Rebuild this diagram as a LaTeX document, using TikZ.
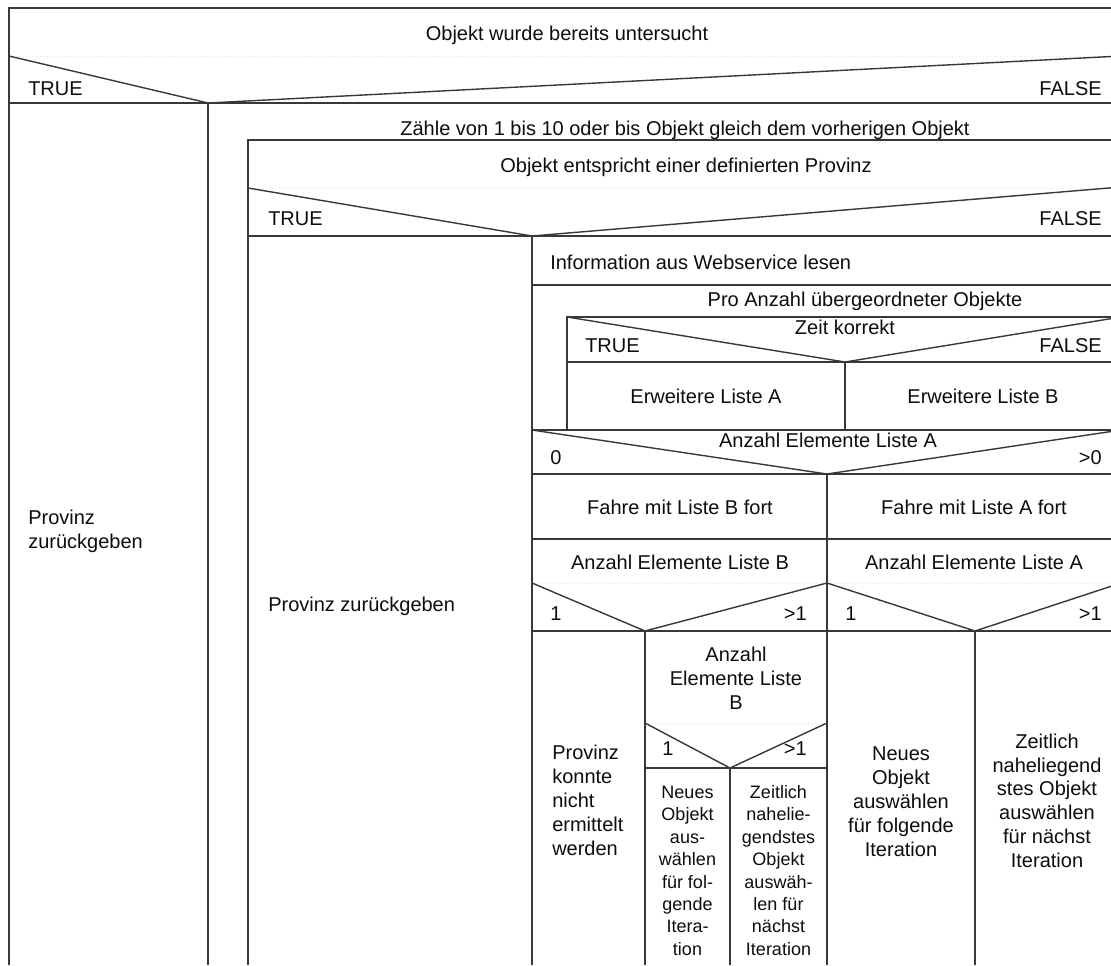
\documentclass[tikz,border=0pt]{standalone}
\usepackage{fontspec}
\setmainfont{Liberation Sans}
\begin{document}
\begin{tikzpicture}[x=0.75pt,y=-0.75pt,
  ln/.style={draw=black!78,line width=1.05pt},
  faint/.style={draw=black!10,line width=0.6pt,dotted},
  txt/.style={inner sep=0pt,text height=10.7pt,text depth=0pt,font=\fontsize{15}{18}\selectfont,text=black!95},
  sml/.style={inner sep=0pt,text height=9.7pt,text depth=0pt,font=\fontsize{13.5}{16}\selectfont,text=black!95}]
\useasboundingbox (0,0) rectangle (1111,965);
\fill[white] (0,0) rectangle (1111,965);
\clip (0,0) rectangle (1111,965);
% structure
\draw[ln] (9,965) -- (9,8) -- (1121,8);
\draw[faint] (9,56) -- (1121,56);
\draw[ln] (9,56) -- (208,103) -- (1121,56);
\draw[ln] (9,103) -- (1121,103);
\draw[ln] (208,103) -- (208,965);
\draw[ln] (248,965) -- (248,140) -- (1121,140);
\draw[faint] (248,188) -- (1121,188);
\draw[ln] (248,188) -- (532,236) -- (1121,187);
\draw[ln] (248,236) -- (1121,236);
\draw[ln] (532,236) -- (532,965);
\draw[ln] (532,285) -- (1121,285);
\draw[ln] (567,430) -- (567,317) -- (1121,317);
\draw[ln] (567,317) -- (845,362) -- (1121,317);
\draw[ln] (567,362) -- (1121,362);
\draw[ln] (845,362) -- (845,430);
\draw[ln] (532,430) -- (1121,430);
\draw[ln] (532,430) -- (827,474) -- (1121,430);
\draw[ln] (532,474) -- (1121,474);
\draw[ln] (827,474) -- (827,965);
\draw[ln] (532,539) -- (1121,539);
\draw[faint] (532,583) -- (1121,583);
\draw[ln] (532,583) -- (645,631) -- (827,583) -- (975,631) -- (1121,583);
\draw[ln] (532,631) -- (1121,631);
\draw[ln] (645,631) -- (645,965);
\draw[ln] (975,631) -- (975,965);
\draw[faint] (645,723) -- (827,723);
\draw[ln] (645,723) -- (730,768) -- (827,723);
\draw[ln] (645,768) -- (827,768);
\draw[ln] (730,768) -- (730,965);
% texts
\node[txt] (h1) at (567,33) {Objekt wurde bereits untersucht};
\node[txt,anchor=west] (t1) at (28,88) {TRUE};
\node[txt,anchor=east] (f1) at (1102,88) {FALSE};
\node[txt,anchor=west] (p1a) at (28,517) {Provinz};
\node[txt,anchor=west] (p1b) at (28,541) {zurückgeben};
\node[txt] (loop) at (685,128) {Zähle von 1 bis 10 oder bis Objekt gleich dem vorherigen Objekt};
\node[txt] (h2) at (686,165) {Objekt entspricht einer definierten Provinz};
\node[txt,anchor=west] (t2) at (268,218) {TRUE};
\node[txt,anchor=east] (f2) at (1102,218) {FALSE};
\node[txt,anchor=west] (p2) at (268,604) {Provinz zurückgeben};
\node[txt,anchor=west] (info) at (550,262) {Information aus Webservice lesen};
\node[txt] (pro) at (865,299) {Pro Anzahl übergeordneter Objekte};
\node[txt] (zeit) at (845,327) {Zeit korrekt};
\node[txt,anchor=west] (t3) at (585,345) {TRUE};
\node[txt,anchor=east] (f3) at (1102,345) {FALSE};
\node[txt] (erwA) at (706,396) {Erweitere Liste A};
\node[txt] (erwB) at (983,396) {Erweitere Liste B};
\node[txt] (anzA) at (828,440) {Anzahl Elemente Liste A};
\node[txt,anchor=west] (z0) at (550,457) {0};
\node[txt,anchor=east] (g0) at (1102,457) {>0};
\node[txt] (fahB) at (680,507) {Fahre mit Liste B fort};
\node[txt] (fahA) at (974,507) {Fahre mit Liste A fort};
\node[txt] (anzB2) at (680,562) {Anzahl Elemente Liste B};
\node[txt] (anzA2) at (974,562) {Anzahl Elemente Liste A};
\node[txt,anchor=west] (e1a) at (550,613) {1};
\node[txt,anchor=east] (g1a) at (807,613) {>1};
\node[txt,anchor=west] (e1b) at (845,613) {1};
\node[txt,anchor=east] (g1b) at (1102,613) {>1};
\foreach \t [count=\i] in {Provinz,konnte,nicht,ermittelt,werden}
  \node[txt,anchor=west] (pk\i) at (552,{752+24*(\i-1)}) {\t};
\foreach \t [count=\i] in {Anzahl,Elemente Liste,B}
  \node[txt] (ab\i) at (736,{654+24*(\i-1)}) {\t};
\node[txt,anchor=west] (e1c) at (662,748) {1};
\node[txt,anchor=east] (g1c) at (807,748) {>1};
\foreach \t [count=\i] in {Neues,Objekt,aus-,wählen,für fol-,gende,Itera-,tion}
  \node[sml] (na\i) at (687.5,{792+22.4*(\i-1)}) {\t};
\foreach \t [count=\i] in {Zeitlich,nahelie-,gendstes,Objekt,auswäh-,len für,nächst,Iteration}
  \node[sml] (za\i) at (778.5,{792+22.4*(\i-1)}) {\t};
\foreach \t [count=\i] in {Neues,Objekt,auswählen,für folgende,Iteration}
  \node[txt] (nb\i) at (901,{753+24*(\i-1)}) {\t};
\foreach \t [count=\i] in {Zeitlich,naheliegend,stes Objekt,auswählen,für nächst,Iteration}
  \node[txt] (zb\i) at (1047,{741+23.9*(\i-1)}) {\t};
\end{tikzpicture}
\end{document}
